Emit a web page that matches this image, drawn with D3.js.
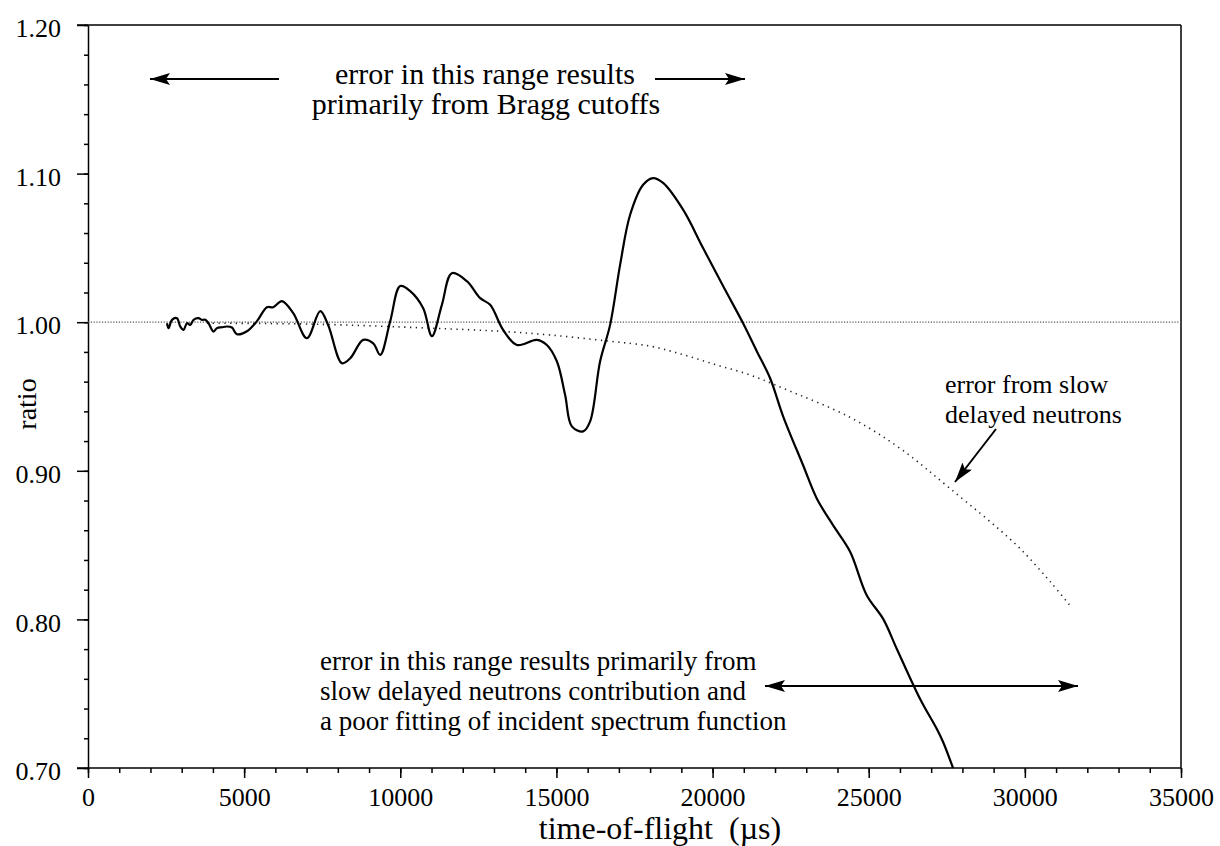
<!DOCTYPE html>
<style>body { margin: 0; }</style>
<svg width="1220" height="846" font-family="'Liberation Serif', 'Times New Roman', serif"></svg>
<script src="https://d3js.org/d3.v7.min.js"></script>
<script>

    // measured ratio (solid)
    var tof = [2529, 2580, 2689, 2849, 2955, 3060, 3169, 3275, 3380, 3540, 3649, 3755, 3860, 4020, 4129, 4289, 4449, 4609, 4769,
        5090, 5410, 5730, 5932, 6210, 6572, 7010, 7436, 7692, 8131, 8397, 8813, 9133, 9357, 9678, 9998,
        10318, 10734, 11012, 11332, 11652, 12132, 12558, 12878, 13294, 13732, 14373, 14693, 15013, 15279,
        15493, 15855, 16079, 16399, 16719, 17039, 17360, 17776, 18096, 18416, 19056, 19696, 20337, 20977,
        21415, 21843, 22259, 22896, 23336, 23857, 24401, 24936, 25458, 25897, 26642, 27177, 27378, 27700];
    var ratio = [0.9993, 0.996, 1.0016, 1.0027, 0.9971, 0.9948, 0.9993, 0.9982, 1.0016, 1.0027, 1.0016, 1.0016, 0.9993, 0.9937, 0.996, 0.9966, 0.9971, 0.9964, 0.9919,
        0.9939, 1.0007, 1.0101, 1.0101, 1.0142, 1.0061, 0.9892, 1.0074, 0.998, 0.9724, 0.9757, 0.9881, 0.9858, 0.978, 1.0007, 1.0243,
        1.0209, 1.0094, 0.9906, 1.0117, 1.033, 1.0276, 1.0162, 1.0117, 0.9948, 0.9847, 0.9881, 0.9847, 0.9737, 0.951,
        0.9299, 0.9265, 0.9333, 0.9737, 0.9982, 1.0386, 1.0723, 1.0925, 1.097, 1.0937, 1.0757, 1.0499, 1.0243, 0.9993,
        0.9805, 0.9623, 0.9367, 0.9039, 0.8814, 0.8634, 0.8457, 0.8163, 0.8005, 0.7803, 0.7466, 0.7264, 0.7177, 0.700];

    // slow delayed neutron error (dotted)
    var slowTof = [3809, 7210, 10957, 13198, 14799, 16614, 18022, 19079, 20134, 21200, 22259, 24401, 26003, 27603, 29738, 30805, 31500];
    var slowRatio = [0.9993, 0.9987, 0.996, 0.9939, 0.9914, 0.9874, 0.9838, 0.978, 0.9712, 0.9645, 0.9555, 0.9360, 0.9151, 0.8881, 0.8499, 0.8255, 0.808];

    var xMajor = [0, 5000, 10000, 15000, 20000, 25000, 30000, 35000];
    var yMajor = [0.70, 0.80, 0.90, 1.00, 1.10, 1.20];

    var svg = d3.select("svg");

    var x = d3.scaleLinear().domain([0, 35000]).range([88, 1181]);
    var y = d3.scaleLinear().domain([0.70, 1.20]).range([768, 25]);

    // frame top + right
    svg.append("line").attr("x1", 77).attr("x2", 1181).attr("y1", y(1.2)).attr("y2", y(1.2))
        .attr("stroke", "#000").attr("stroke-width", 1.5);
    svg.append("line").attr("x1", 1181).attr("x2", 1181).attr("y1", y(1.2)).attr("y2", y(0.7))
        .attr("stroke", "#000").attr("stroke-width", 1.5);

    // minor ticks
    svg.append("g").attr("transform", "translate(0," + y(0.7) + ")")
        .call(d3.axisBottom(x).tickValues(d3.range(0, 35001, 1000)).tickSize(5).tickFormat(""))
        .call(function(g) { g.select(".domain").remove(); });
    svg.append("g").attr("transform", "translate(" + x(0) + ",0)")
        .call(d3.axisLeft(y).tickValues(d3.range(0.70, 1.2001, 0.02)).tickSize(4).tickFormat(""))
        .call(function(g) { g.select(".domain").remove(); });

    // major axes
    var xAxis = svg.append("g").attr("transform", "translate(0," + y(0.7) + ")")
        .call(d3.axisBottom(x).tickValues(xMajor).tickSize(10).tickPadding(10).tickSizeOuter(0).tickFormat(d3.format("d")));
    var yAxis = svg.append("g").attr("transform", "translate(" + x(0) + ",0)")
        .call(d3.axisLeft(y).tickValues(yMajor).tickSize(11).tickPadding(16).tickSizeOuter(0).tickFormat(d3.format(".2f")));

    svg.selectAll(".tick text").attr("font-family", "'Liberation Serif', serif").attr("font-size", 26).attr("fill", "#000");
    yAxis.selectAll(".tick text").attr("dy", "0.45em");
    svg.selectAll(".domain, .tick line").attr("stroke", "#000").attr("stroke-width", 1.5);
    xAxis.select(".domain").attr("d", "M77,0H1181");

    // 1.00 reference line
    svg.append("line")
        .attr("x1", x(0)).attr("x2", x(35000)).attr("y1", y(1.0)).attr("y2", y(1.0))
        .attr("stroke", "#555").attr("stroke-width", 1.3).attr("stroke-dasharray", "1.2,1.6");

    // slow delayed neutrons curve
    var slowLine = d3.line()
        .x(function(d, i) { return x(slowTof[i]); })
        .y(function(d) { return y(d); })
        .curve(d3.curveCatmullRom.alpha(0.5));
    svg.append("path").datum(slowRatio)
        .attr("d", slowLine).attr("fill", "none")
        .attr("stroke", "#222").attr("stroke-width", 1.6).attr("stroke-dasharray", "1.3,4.5");

    // ratio curve
    var line = d3.line()
        .x(function(d, i) { return x(tof[i]); })
        .y(function(d) { return y(d); })
        .curve(d3.curveCatmullRom.alpha(0.5));
    svg.append("path").datum(ratio)
        .attr("d", line).attr("fill", "none")
        .attr("stroke", "#000").attr("stroke-width", 2.2).attr("stroke-linejoin", "round");

    // arrow head
    var defs = svg.append("defs");
    defs.append("marker").attr("id", "head")
        .attr("markerUnits", "userSpaceOnUse")
        .attr("viewBox", "0 0 20 12").attr("refX", 20).attr("refY", 6)
        .attr("markerWidth", 20).attr("markerHeight", 12).attr("orient", "auto-start-reverse")
        .append("path").attr("d", "M0,0L20,6L0,12L4,6Z").attr("fill", "#000");

    function arrow(x1, y1, x2, y2, both) {
        var a = svg.append("line").attr("x1", x1).attr("y1", y1).attr("x2", x2).attr("y2", y2)
            .attr("stroke", "#000").attr("stroke-width", 2).attr("marker-end", "url(#head)");
        if (both) a.attr("marker-start", "url(#head)");
    }
    arrow(279, 79, 150, 79);
    arrow(655, 79, 745, 79);
    arrow(765, 686, 1078, 686, true);
    arrow(996, 429, 955, 482);

    // annotations
    var note = svg.append("g").attr("fill", "#000");
    note.append("text").attr("x", 485).attr("y", 84).attr("font-size", 30).attr("text-anchor", "middle").text("error in this range results");
    note.append("text").attr("x", 486).attr("y", 114).attr("font-size", 30).attr("text-anchor", "middle").text("primarily from Bragg cutoffs");
    note.append("text").attr("x", 945).attr("y", 393).attr("font-size", 26).text("error from slow");
    note.append("text").attr("x", 945).attr("y", 423).attr("font-size", 26).text("delayed neutrons");
    note.append("text").attr("x", 320).attr("y", 670).attr("font-size", 27).text("error in this range results primarily from");
    note.append("text").attr("x", 320).attr("y", 700).attr("font-size", 27).text("slow delayed neutrons contribution and");
    note.append("text").attr("x", 320).attr("y", 730).attr("font-size", 27).text("a poor fitting of incident spectrum function");

    // axis titles
    svg.append("text").attr("x", 660).attr("y", 839).attr("text-anchor", "middle")
        .attr("font-size", 32).text("time-of-flight\u00a0\u00a0(\u00b5s)");
    svg.append("text").attr("transform", "translate(36,404) rotate(-90)").attr("text-anchor", "middle")
        .attr("font-size", 28).text("ratio");

</script>
